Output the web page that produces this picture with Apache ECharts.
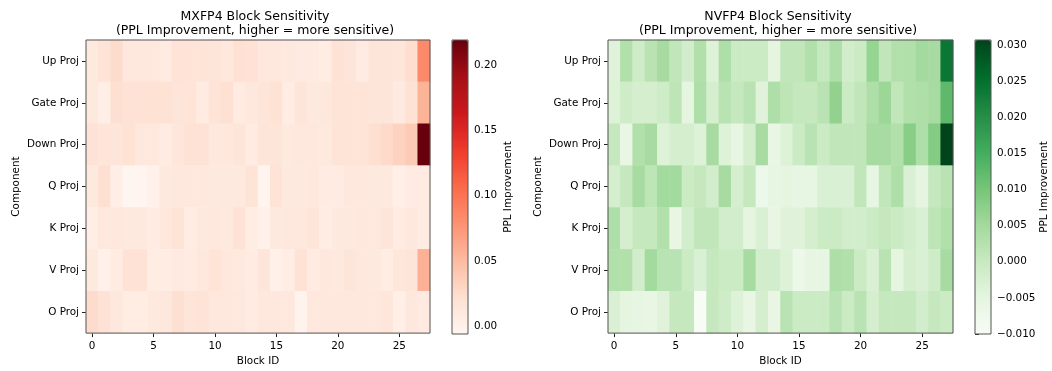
<!DOCTYPE html>
<html><head><meta charset="utf-8">
<script src="https://cdn.jsdelivr.net/npm/echarts@6/dist/echarts.min.js"></script>
<style>html,body{margin:0;padding:0;background:#fff}#c{width:1052px;height:371px}</style>
</head><body><div id="c"></div>
<script>
const blocks = ['0','1','2','3','4','5','6','7','8','9','10','11','12','13','14','15','16','17','18','19','20','21','22','23','24','25','26','27'];
const components = ['Up Proj','Gate Proj','Down Proj','Q Proj','K Proj','V Proj','O Proj'];
const xTickLabels = ['0','5','10','15','20','25'];

// MXFP4 PPL improvement per component (rows) and block (columns)
const mxUp   = [0.010,0.018,0.025,0.013,0.013,0.013,0.008,0.018,0.018,0.017,0.016,0.012,0.021,0.019,0.012,0.012,0.010,0.009,0.009,0.005,0.019,0.016,0.008,0.015,0.015,0.014,0.024,0.085];
const mxGate = [0.010,0.003,0.022,0.019,0.019,0.020,0.020,0.016,0.017,0.008,0.017,0.021,0.007,0.013,0.016,0.020,0.006,0.015,0.010,0.012,0.017,0.017,0.017,0.016,0.016,0.009,0.020,0.055];
const mxDown = [0.019,0.016,0.016,0.020,0.013,0.012,0.008,0.014,0.019,0.019,0.013,0.013,0.015,0.008,0.015,0.015,0.010,0.012,0.012,0.010,0.017,0.017,0.017,0.022,0.027,0.033,0.039,0.219];
const mxQ    = [0.010,0.022,0.003,-0.006,-0.005,0.001,0.010,0.012,0.012,0.012,0.010,0.010,0.010,0.017,-0.004,0.018,0.010,0.010,0.012,0.008,0.008,0.012,0.012,0.010,0.010,0.002,0.007,0.007];
const mxK    = [0.003,0.012,0.012,0.010,0.010,0.008,0.012,0.017,0.005,0.010,0.012,0.010,0.019,0.005,0.000,0.010,0.012,0.012,0.015,0.005,0.010,0.010,0.012,0.012,0.015,0.008,0.012,0.007];
const mxV    = [0.010,0.000,0.007,0.019,0.019,0.005,0.005,0.009,0.007,0.012,0.017,0.012,0.010,0.007,0.015,0.000,0.005,0.019,0.007,0.012,0.010,0.015,0.012,0.010,0.005,0.014,0.016,0.057];
const mxO    = [0.025,0.019,0.013,0.005,0.005,0.010,0.012,0.022,0.015,0.017,0.012,0.012,0.012,0.008,0.012,0.012,0.012,-0.003,0.012,0.012,0.012,0.012,0.012,0.012,0.014,0.002,0.012,0.009];

// NVFP4 PPL improvement
const nvUp   = [-0.004,0.003,-0.001,0.002,0.0045,0.001,-0.0015,0.003,-0.0035,0.0035,-0.0005,-0.0005,-0.0005,-0.005,0.001,0.001,0.003,0.0005,0.0035,-0.0015,-0.0005,0.0065,0.001,0.003,0.003,0.005,0.0045,0.024];
const nvGate = [-0.0035,-0.001,-0.002,-0.002,-0.001,0.0015,-0.005,0.0035,-0.002,0.002,0.0005,0.002,-0.004,0.0035,0.0015,0.0005,0.0005,0.002,0.007,-0.0005,0.001,0.0035,0.0058,0.001,0.003,0.0035,0.0045,0.0125];
const nvDown = [0.0005,-0.006,0.003,0.0045,-0.0035,-0.002,-0.002,-0.0035,0.0045,-0.0035,-0.0055,-0.002,0.0045,-0.006,-0.0035,-0.0005,0.002,-0.0005,0.001,0.001,0.001,0.0045,0.0045,0.003,0.008,0.0035,0.0085,0.0307];
const nvQ    = [-0.002,0.0005,0.0045,0.0015,0.005,0.005,-0.0005,0.0005,-0.0015,0.0045,-0.002,0.0005,-0.007,-0.0055,-0.005,-0.0055,-0.0055,-0.003,-0.003,-0.003,0.001,-0.0055,0.001,0.0035,-0.003,-0.005,0.0005,0.002];
const nvK    = [0.0035,-0.002,0.0005,0.0005,0.003,-0.006,-0.0015,0.001,0.001,-0.0015,-0.0015,-0.005,-0.003,-0.006,-0.004,-0.004,-0.002,-0.0005,-0.0005,-0.0015,-0.0015,-0.0005,0.0005,-0.0005,-0.0015,-0.003,0.0015,0.003];
const nvV    = [0.003,0.003,-0.0015,0.005,0.002,0.002,-0.0005,-0.003,0.0005,-0.0005,-0.0005,0.0045,-0.0015,-0.0015,-0.0035,-0.007,-0.0055,-0.0055,0.0035,0.003,-0.0005,-0.003,0.002,-0.005,-0.002,-0.003,-0.001,0.0045];
const nvO    = [-0.003,-0.005,-0.0055,-0.006,-0.004,0.0005,0.0005,-0.010,0.0005,-0.001,-0.0035,-0.006,-0.002,-0.006,0.002,-0.0005,-0.0005,-0.0005,0.002,-0.0005,0.002,-0.002,0.0005,0.0005,0.0005,-0.0015,0.0005,-0.0005];

const redRange = [-0.006, 0.219];
const greenRange = [-0.010, 0.0307];
const redBarTicks = [0, 0.05, 0.10, 0.15, 0.20];
const greenBarTicks = [-0.010, -0.005, 0.000, 0.005, 0.010, 0.015, 0.020, 0.025, 0.030];

const redColors = ['#fff5f0','#fee0d2','#fcbba1','#fc9272','#fb6a4a','#ef3b2c','#cb181d','#a50f15','#67000d'];
const greenColors = ['#f7fcf5','#e5f5e0','#c7e9c0','#a1d99b','#74c476','#41ab5d','#238b45','#006d2c','#00441b'];

function build(rows) {
  const out = [];
  rows.forEach((row, r) => row.forEach((v, c) => out.push([c, r, v])));
  return out;
}
const mxData = build([mxUp, mxGate, mxDown, mxQ, mxK, mxV, mxO]);
const nvData = build([nvUp, nvGate, nvDown, nvQ, nvK, nvV, nvO]);

const FONT = 'DejaVu Sans';
const TXT = '#000';

function heatX(gi) {
  return {
    type: 'category', gridIndex: gi, data: blocks,
    axisLine: { show: false },
    axisTick: { show: true, alignWithLabel: true, interval: (i) => xTickLabels.indexOf(blocks[i]) >= 0, length: 4, lineStyle: { color: '#222' } },
    axisLabel: { interval: (i) => xTickLabels.indexOf(blocks[i]) >= 0, fontFamily: FONT, fontSize: 10.4, color: TXT, margin: 8 },
    splitLine: { show: false },
    name: 'Block ID', nameLocation: 'middle', nameGap: 22,
    nameTextStyle: { fontFamily: FONT, fontSize: 10.4, color: TXT }
  };
}
function heatY(gi, gap) {
  return {
    type: 'category', gridIndex: gi, data: components, inverse: true,
    axisLine: { show: false },
    axisTick: { show: true, alignWithLabel: true, length: 4, lineStyle: { color: '#222' } },
    axisLabel: { fontFamily: FONT, fontSize: 10.4, color: TXT, margin: 7 },
    splitLine: { show: false },
    name: 'Component', nameLocation: 'middle', nameGap: gap, nameRotate: 90,
    nameTextStyle: { fontFamily: FONT, fontSize: 10.4, color: TXT }
  };
}
function barY(gi, range, ticks, digits, gap) {
  return {
    type: 'value', gridIndex: gi, position: 'right', min: range[0], max: range[1],
    axisLine: { show: false },
    axisTick: { show: true, customValues: ticks, length: 4, lineStyle: { color: '#222' } },
    axisLabel: { customValues: ticks, formatter: (v) => (v < 0 ? '\u2212' : '') + Math.abs(v).toFixed(digits), fontFamily: FONT, fontSize: 10.4, color: TXT, margin: 6 },
    splitLine: { show: false },
    name: 'PPL Improvement', nameLocation: 'middle', nameGap: gap, nameRotate: 90,
    nameTextStyle: { fontFamily: FONT, fontSize: 10.4, color: TXT }
  };
}
const gridBorder = { show: true, borderColor: '#555', borderWidth: 1, backgroundColor: 'transparent', z: 5 };

const option = {
  animation: false,
  backgroundColor: '#fff',
  title: [
    { text: 'MXFP4 Block Sensitivity\n(PPL Improvement, higher = more sensitive)', left: 250, top: 4, textAlign: 'center',
      textStyle: { fontFamily: FONT, fontSize: 12.5, fontWeight: 'normal', color: TXT, lineHeight: 14.5 } },
    { text: 'NVFP4 Block Sensitivity\n(PPL Improvement, higher = more sensitive)', left: 773, top: 4, textAlign: 'center',
      textStyle: { fontFamily: FONT, fontSize: 12.5, fontWeight: 'normal', color: TXT, lineHeight: 14.5 } }
  ],
  grid: [
    Object.assign({ left: 86, top: 40, width: 344, height: 294 }, gridBorder),
    Object.assign({ left: 608, top: 40, width: 345, height: 294 }, gridBorder),
    Object.assign({ left: 452, top: 40, width: 16, height: 294 }, gridBorder),
    Object.assign({ left: 975, top: 40, width: 16, height: 294 }, gridBorder)
  ],
  xAxis: [
    heatX(0), heatX(1),
    { type: 'value', gridIndex: 2, show: false, min: 0, max: 1 },
    { type: 'value', gridIndex: 3, show: false, min: 0, max: 1 }
  ],
  yAxis: [
    heatY(0, 65), heatY(1, 65),
    barY(2, redRange, redBarTicks, 2, 35),
    barY(3, greenRange, greenBarTicks, 3, 47)
  ],
  visualMap: [
    { type: 'continuous', seriesIndex: 0, min: redRange[0], max: redRange[1], calculable: false, realtime: false,
      left: 452, top: 40, itemWidth: 16, itemHeight: 294, padding: 0, text: null, showLabel: false,
      inRange: { color: redColors } },
    { type: 'continuous', seriesIndex: 1, min: greenRange[0], max: greenRange[1], calculable: false, realtime: false,
      left: 975, top: 40, itemWidth: 16, itemHeight: 294, padding: 0, text: null, showLabel: false,
      inRange: { color: greenColors } }
  ],
  series: [
    { type: 'heatmap', xAxisIndex: 0, yAxisIndex: 0, data: mxData, itemStyle: { borderWidth: 0 }, emphasis: { disabled: true } },
    { type: 'heatmap', xAxisIndex: 1, yAxisIndex: 1, data: nvData, itemStyle: { borderWidth: 0 }, emphasis: { disabled: true } }
  ]
};
const chart = echarts.init(document.getElementById('c'), null, { renderer: 'canvas' });
chart.setOption(option);
</script>
</body></html>
